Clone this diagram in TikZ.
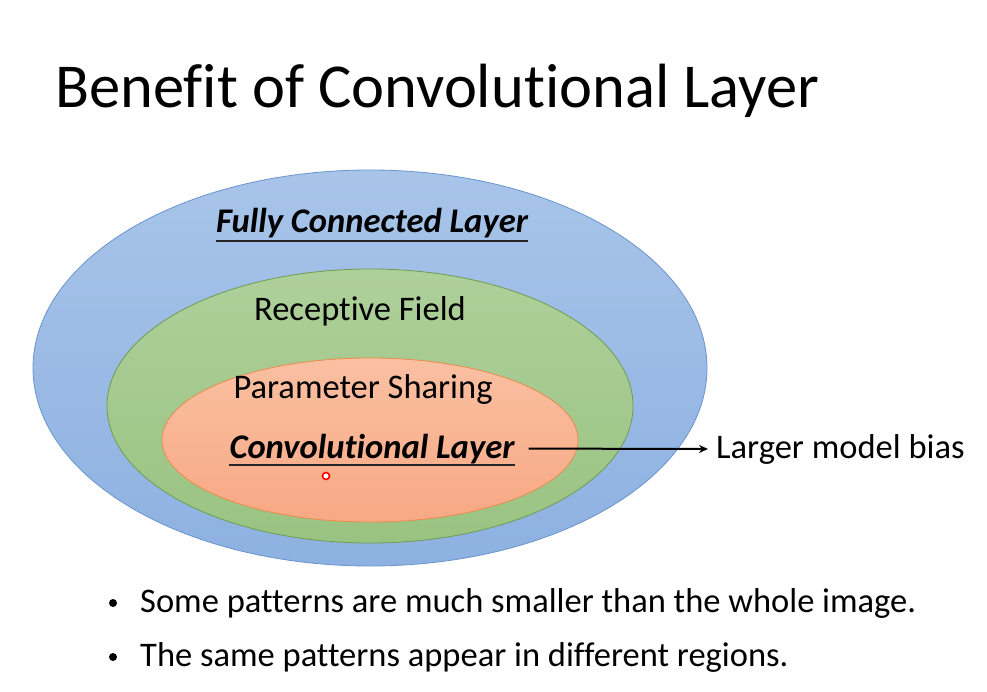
\documentclass[tikz,border=0pt]{standalone}
\usepackage{fontspec}
\setmainfont[Ligatures={NoCommon}]{Carlito}
\usetikzlibrary{arrows.meta}

\definecolor{fcfill}{RGB}{168,196,233}
\definecolor{fcfilldark}{RGB}{141,177,225}
\definecolor{fcline}{RGB}{105,148,206}
\definecolor{rffill}{RGB}{174,207,154}
\definecolor{rffilldark}{RGB}{154,195,130}
\definecolor{rfline}{RGB}{108,158,78}
\definecolor{psfill}{RGB}{249,192,162}
\definecolor{psfilldark}{RGB}{248,168,132}
\definecolor{psline}{RGB}{236,138,76}

\tikzset{
  txt/.style={inner sep=0pt, font=\fontsize{34.5}{40}\selectfont},
  bigtxt/.style={inner sep=0pt, font=\fontsize{34.6}{40}\selectfont\bfseries\itshape},
  note/.style={inner sep=0pt, font=\fontsize{34.5}{40}\selectfont}
}

\begin{document}
\begin{tikzpicture}[x=1pt, y=-1pt]
  \useasboundingbox[fill=white] (0,0) rectangle (987,692);

  % title
  \node[inner sep=0pt, anchor=base west, font=\fontsize{62.5}{70}\selectfont] (title) at (55,108) {Benefit of Convolutional Layer};

  % nested sets
  \draw[fcline, line width=0.8pt, top color=fcfill, bottom color=fcfilldark] (370,368) ellipse [x radius=337, y radius=198];
  \draw[rfline, line width=0.8pt, top color=rffill, bottom color=rffilldark] (370,406) ellipse [x radius=263, y radius=137];
  \draw[psline, line width=0.8pt, top color=psfill, bottom color=psfilldark] (370,440) ellipse [x radius=208, y radius=82];

  \node[bigtxt, anchor=base] (fc) at (372,233) {Fully Connected Layer};
  \draw[line width=1.5pt, black!85] ([yshift=-8pt]fc.base west) -- ([yshift=-8pt]fc.base east);

  \node[txt, anchor=base] (rf) at (360,320) {Receptive Field};
  \node[txt, anchor=base] (ps) at (363,398) {Parameter Sharing};

  \node[bigtxt, anchor=base] (conv) at (372,458) {Convolutional Layer};
  \draw[line width=1.5pt, black!85] ([yshift=-7pt]conv.base west) -- ([yshift=-7pt]conv.base east);

  \node[txt, anchor=base west] (bias) at (716,458) {Larger model bias};
  \draw[line width=2pt, -{Stealth[length=9pt, width=8pt]}] ([xshift=14pt]conv.east) -- ([xshift=-8pt]bias.west);

  % pointer
  \draw[red, line width=1.6pt, fill=white] (326,476) circle (3.5);

  % bullets
  \node[note, anchor=base west] (b1) at (140,612) {Some patterns are much smaller than the whole image.};
  \node[note, anchor=base west] (b2) at (140,666) {The same patterns appear in different regions.};
  \fill (b1.base west) ++(-27,-9) circle (4);
  \fill (b2.base west) ++(-27,-9) circle (4);
\end{tikzpicture}
\end{document}
